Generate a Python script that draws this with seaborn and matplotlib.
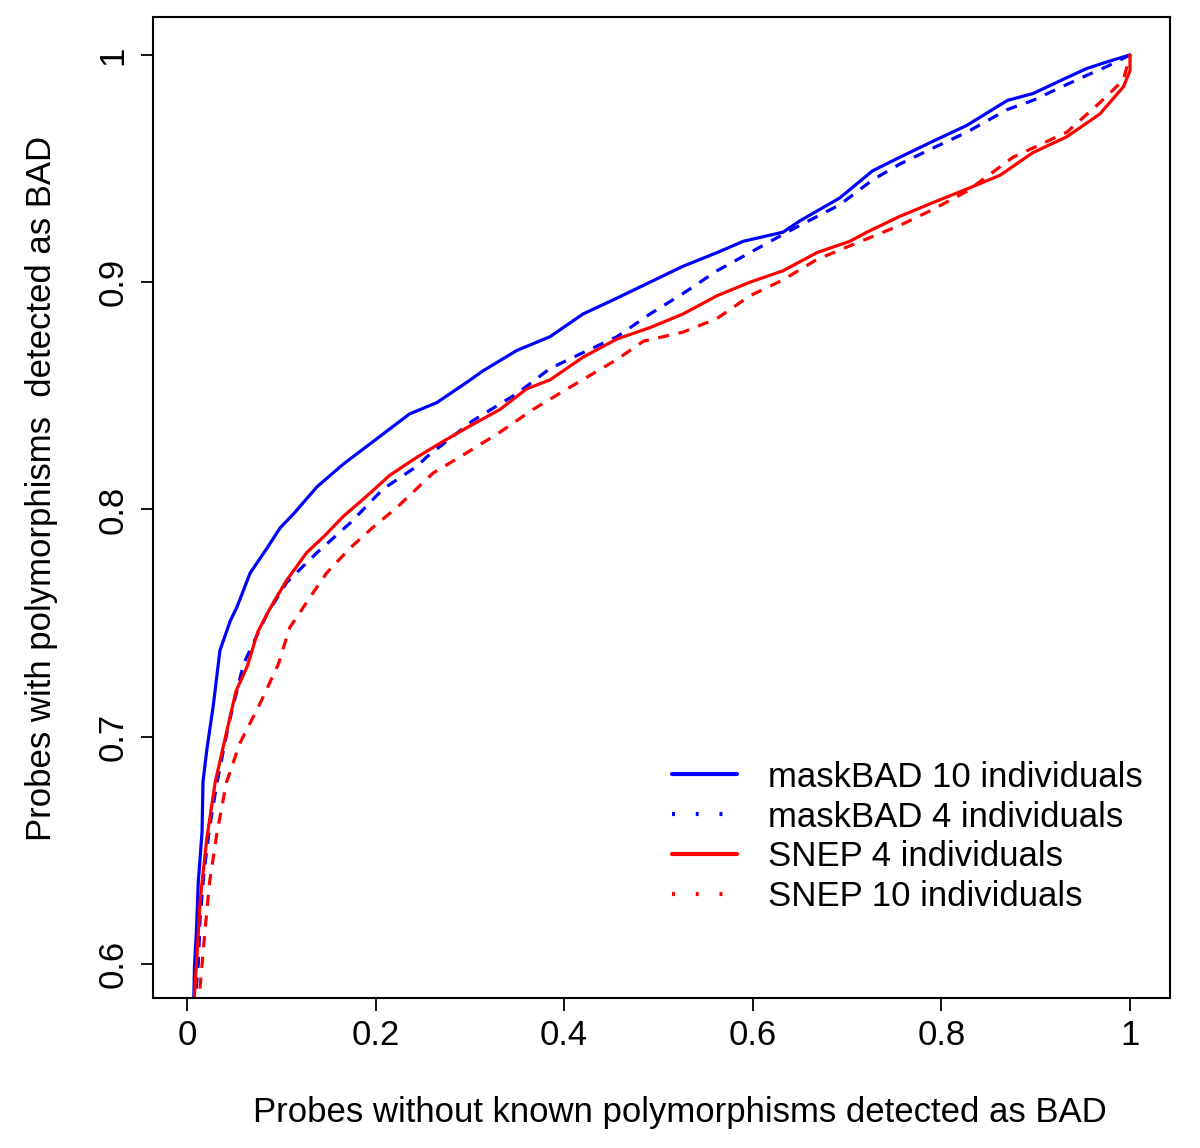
import matplotlib
matplotlib.use("Agg")
import matplotlib.pyplot as plt
from matplotlib.lines import Line2D
import seaborn as sns
import pandas as pd

# maskBAD 10 individuals
mb10_x = [0.007, 0.008, 0.010, 0.012, 0.016, 0.017, 0.021, 0.028, 0.035, 0.046, 0.053, 0.067,
          0.085, 0.099, 0.113, 0.138, 0.166, 0.201, 0.236, 0.265, 0.297, 0.314, 0.350, 0.385,
          0.420, 0.456, 0.491, 0.526, 0.562, 0.590, 0.632, 0.650, 0.692, 0.727, 0.756, 0.791,
          0.827, 0.870, 0.897, 0.933, 0.954, 0.976, 1.0]
mb10_y = [0.580, 0.599, 0.614, 0.636, 0.658, 0.680, 0.694, 0.714, 0.738, 0.751, 0.757, 0.772,
          0.783, 0.792, 0.798, 0.810, 0.820, 0.831, 0.842, 0.847, 0.856, 0.861, 0.870, 0.876,
          0.886, 0.893, 0.900, 0.907, 0.913, 0.918, 0.922, 0.927, 0.937, 0.949, 0.955, 0.962,
          0.969, 0.980, 0.983, 0.990, 0.994, 0.997, 1.0]

# maskBAD 4 individuals
mb4_x = [0.008, 0.012, 0.014, 0.018, 0.024, 0.032, 0.044, 0.060, 0.085, 0.106, 0.138, 0.173,
         0.208, 0.244, 0.254, 0.303, 0.350, 0.385, 0.420, 0.456, 0.491, 0.526, 0.562, 0.597,
         0.632, 0.650, 0.692, 0.727, 0.756, 0.791, 0.827, 0.870, 0.897, 0.933, 0.954, 0.976, 1.0]
mb4_y = [0.580, 0.600, 0.620, 0.640, 0.660, 0.680, 0.705, 0.732, 0.754, 0.768, 0.781, 0.794,
         0.809, 0.819, 0.823, 0.839, 0.851, 0.862, 0.869, 0.876, 0.886, 0.895, 0.905, 0.913,
         0.921, 0.925, 0.934, 0.945, 0.952, 0.959, 0.966, 0.976, 0.980, 0.987, 0.991, 0.995, 1.0]

# SNEP 4 individuals
sn4_x = [0.007, 0.011, 0.014, 0.021, 0.030, 0.042, 0.052, 0.064, 0.075, 0.085, 0.093, 0.106,
         0.127, 0.145, 0.166, 0.191, 0.215, 0.244, 0.272, 0.297, 0.332, 0.360, 0.385, 0.420,
         0.456, 0.491, 0.526, 0.562, 0.597, 0.632, 0.668, 0.703, 0.721, 0.756, 0.791, 0.827,
         0.862, 0.897, 0.933, 0.968, 0.993, 1.0, 1.0]
sn4_y = [0.580, 0.606, 0.628, 0.655, 0.680, 0.702, 0.720, 0.731, 0.746, 0.754, 0.760, 0.769,
         0.781, 0.788, 0.797, 0.806, 0.815, 0.823, 0.830, 0.836, 0.844, 0.853, 0.857, 0.867,
         0.875, 0.880, 0.886, 0.894, 0.900, 0.905, 0.913, 0.918, 0.922, 0.929, 0.935, 0.941,
         0.947, 0.957, 0.964, 0.974, 0.986, 0.993, 1.0]

# SNEP 10 individuals
sn10_x = [0.012, 0.014, 0.019, 0.024, 0.032, 0.042, 0.056, 0.078, 0.097, 0.109, 0.130, 0.148,
          0.173, 0.197, 0.223, 0.261, 0.297, 0.332, 0.367, 0.403, 0.456, 0.484, 0.526, 0.562,
          0.597, 0.632, 0.668, 0.703, 0.756, 0.791, 0.827, 0.876, 0.933, 0.968, 0.993, 1.0]
sn10_y = [0.580, 0.590, 0.614, 0.636, 0.658, 0.680, 0.697, 0.715, 0.732, 0.748, 0.761, 0.772,
          0.783, 0.792, 0.801, 0.816, 0.825, 0.834, 0.844, 0.853, 0.866, 0.874, 0.878, 0.884,
          0.894, 0.901, 0.910, 0.916, 0.925, 0.932, 0.940, 0.955, 0.966, 0.979, 0.989, 1.0]

x_ticks = [0, 0.2, 0.4, 0.6, 0.8, 1]
x_ticklabels = ["0", "0.2", "0.4", "0.6", "0.8", "1"]
y_ticks = [0.6, 0.7, 0.8, 0.9, 1.0]
y_ticklabels = ["0.6", "0.7", "0.8", "0.9", "1"]

sns.set_style("white")
plt.rcParams['font.family'] = ['Liberation Sans', 'DejaVu Sans']
plt.rcParams['text.color'] = 'black'

fig = plt.figure(figsize=(12, 11.48), dpi=100)
ax = fig.add_axes([0.1275, 0.1307, 0.8475, 0.8545])

series = [
    ("maskBAD 10 individuals", mb10_x, mb10_y, "#0000ff", "-"),
    ("maskBAD 4 individuals", mb4_x, mb4_y, "#0000ff", (0, (3.5, 3))),
    ("SNEP 4 individuals", sn4_x, sn4_y, "#ff0000", "-"),
    ("SNEP 10 individuals", sn10_x, sn10_y, "#ff0000", (0, (3.5, 3))),
]
for name, xs, ys, col, ls in series:
    df = pd.DataFrame({"x": xs, "y": ys})
    sns.lineplot(data=df, x="x", y="y", ax=ax, color=col, linestyle=ls,
                 linewidth=2.3, estimator=None, sort=False)

ax.set_xlim(-0.036, 1.0424)
ax.set_ylim(0.585, 1.0167)
ax.set_xticks(x_ticks)
ax.set_xticklabels(x_ticklabels)
ax.set_yticks(y_ticks)
ax.set_yticklabels(y_ticklabels, rotation=90, va="center")
ax.tick_params(axis="both", direction="out", length=9, width=1.3, labelsize=25,
               colors="black", bottom=True, left=True, pad=6)
ax.tick_params(axis="y", pad=8)
for sp in ax.spines.values():
    sp.set_visible(True)
    sp.set_color("black")
    sp.set_linewidth(1.5)

ax.set_xlabel("Probes without known polymorphisms detected as BAD", fontsize=25, color="black")
ax.set_ylabel("Probes with polymorphisms  detected as BAD", fontsize=25, color="black")
ax.xaxis.set_label_coords(0.518, -0.100)
ax.yaxis.set_label_coords(-0.093, 0.519)

handles = [
    Line2D([0], [0], color="#0000ff", lw=3, ls="-"),
    Line2D([0], [0], color="#0000ff", lw=3, ls=(0, (0.7, 5))),
    Line2D([0], [0], color="#ff0000", lw=3, ls="-"),
    Line2D([0], [0], color="#ff0000", lw=3, ls=(0, (0.7, 5))),
]
labels = [s[0] for s in series]
leg = ax.legend(handles, labels, loc="upper left", bbox_to_anchor=(0.510, 0.242),
                frameon=False, fontsize=25, handlelength=1.87, handletextpad=0.9,
                labelspacing=0.2, borderpad=0, borderaxespad=0)
for t in leg.get_texts():
    t.set_color("black")

fig.savefig("out.png", dpi=100, facecolor="white")
